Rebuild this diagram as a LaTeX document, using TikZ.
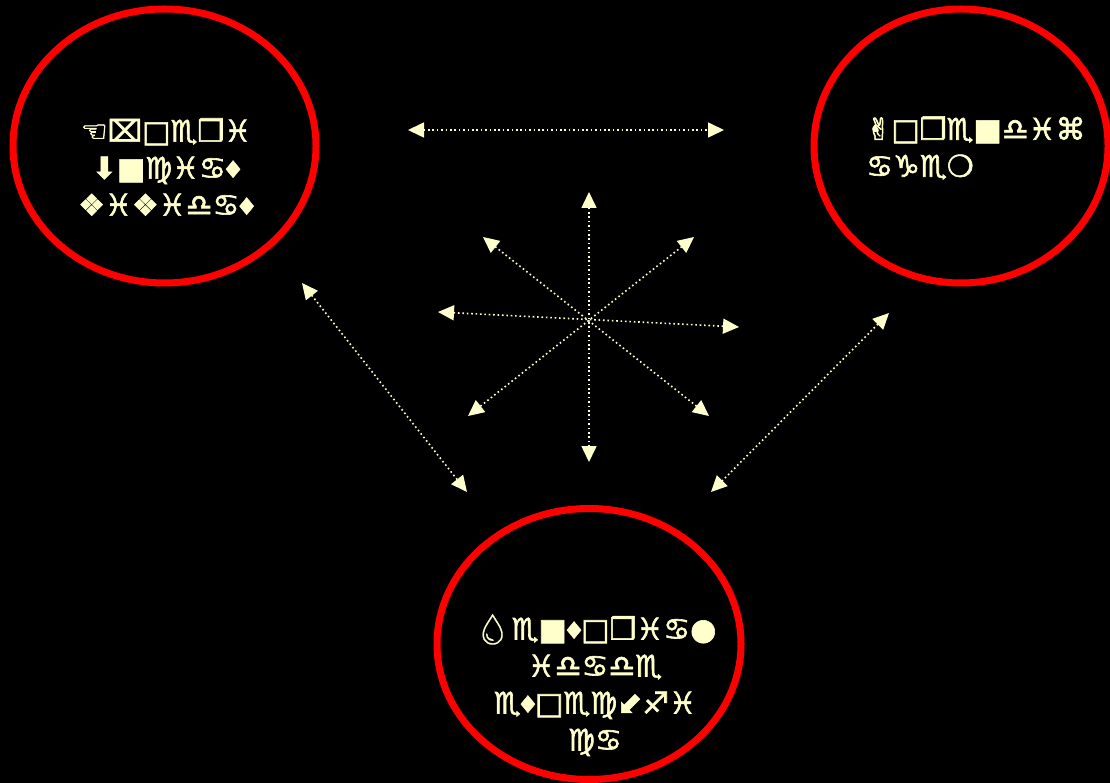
\documentclass[tikz,border=0pt]{standalone}
\usepackage{fontspec}
\setmainfont{DejaVu Sans}
\newfontfamily\wing[FakeBold=2]{DejaVu Sans}
\newfontfamily\emo[FakeBold=1]{Noto Emoji}
\usetikzlibrary{arrows.meta,shapes.geometric}
\definecolor{cream}{HTML}{FFFFCC}
\definecolor{ringred}{HTML}{FF0000}
\newcommand{\loz}{\raisebox{0.12em}{\scalebox{0.62}[0.75]{◆}}}
\tikzset{
  ring/.style={ellipse,draw=ringred,line width=7pt,fill=black,inner sep=0pt},
  glyphs/.style={text=cream,font=\wing\fontsize{30}{37}\selectfont,inner sep=0pt},
  link/.style={draw=cream,line width=1.6pt,dash pattern=on 1.6pt off 2.8pt,
    {Triangle[length=16pt,width=15pt,fill=cream]}-{Triangle[length=16pt,width=15pt,fill=cream]},
    shorten <=0pt,shorten >=0pt}
}
\begin{document}
\begin{tikzpicture}[x=1pt,y=-1pt]
\fill[black] (0,0) rectangle (1110,783);
\useasboundingbox (0,0) rectangle (1110,783);
% rings
\node[ring,minimum width=303pt,minimum height=274pt] (L) at (164.5,146) {};
\node[ring,minimum width=294pt,minimum height=274pt] (R) at (961,146) {};
\node[ring,minimum width=304pt,minimum height=271pt] (B) at (589,644) {};
% texts
\node[glyphs,align=center] (Lt) at (166,167) {☜⌧□♏❒♓\\⬇■♍♓♋\loz\\❖♓❖♓♎♋\loz};
\node[glyphs,align=left,anchor=west] (Rt) at (866,148) {✌□❒♏■♎♓⌘\\♋♑♏❍};
\node[glyphs,align=center] (Bt) at (595,685) {{\emo 💧}♏■\loz□❒♓♋●\\♓♎♋♎♏\\♏\loz□♏♍⬋♐♓\\♍♋};
% connector end points
\coordinate (h1) at (408,130); \coordinate (h2) at (724,130);
\coordinate (c) at (589,320);
\coordinate (n) at (589,192); \coordinate (s) at (589,462);
\coordinate (nw) at (483,237); \coordinate (se) at (709,416);
\coordinate (ne) at (694,237); \coordinate (sw) at (468,416);
\coordinate (w) at (438,312); \coordinate (e) at (739,327);
\coordinate (dl1) at (302,283); \coordinate (dl2) at (467,492);
\coordinate (dr1) at (889,313); \coordinate (dr2) at (711,492);
% connectors
\draw[link] (h1) -- (h2);
\draw[link] (n) -- (s);
\draw[link] (nw) -- (se);
\draw[link] (ne) -- (sw);
\draw[link] (w) -- (e);
\draw[link] (dl1) -- (dl2);
\draw[link] (dr1) -- (dr2);
\end{tikzpicture}
\end{document}
